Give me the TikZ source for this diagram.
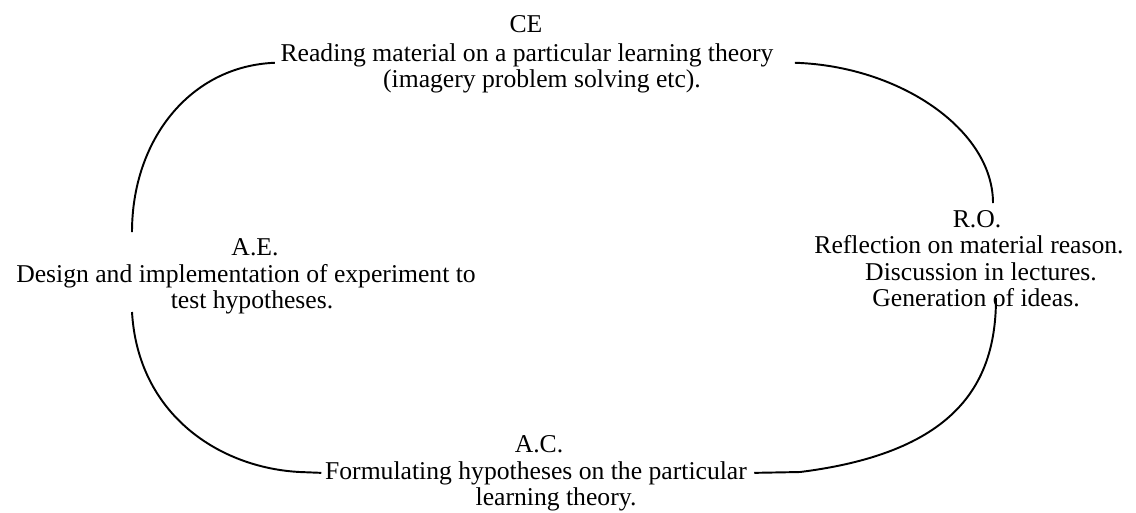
\documentclass[tikz,border=0pt]{standalone}
\usepackage{fontspec}
\setmainfont{Liberation Serif}
\begin{document}
\begin{tikzpicture}[x=0.02cm, y=-0.02cm, font=\fontsize{14.6}{17}\selectfont,
    txt/.style={anchor=base, inner sep=0pt},
    loopline/.style={line width=1.1pt}]
  \useasboundingbox (0,0) rectangle (1136,512);
  % stage titles
  \node[txt] (ce) at (526,32) {CE};
  \node[txt] (ro) at (977,227) {R.O.};
  \node[txt] (ac) at (539,452) {A.C.};
  \node[txt] (ae) at (255,255) {A.E.};
  % stage texts
  \node[txt] (ce1) at (527,61) {Reading material on a particular learning theory};
  \node[txt] (ce2) at (542,87) {(imagery problem solving etc).};
  \node[txt] (ro1) at (969,253) {Reflection on material reason.};
  \node[txt] (ro2) at (981,280) {Discussion in lectures.};
  \node[txt] (ro3) at (976,306) {Generation of ideas.};
  \node[txt] (ae1) at (246,282) {Design and implementation of experiment to};
  \node[txt] (ae2) at (252,308) {test hypotheses.};
  \node[txt] (ac1) at (536,479) {Formulating hypotheses on the particular};
  \node[txt] (ac2) at (556,505) {learning theory.};
  % ends of the arcs
  \coordinate (aeTop) at (132,232);
  \coordinate (aeBot) at (132,312);
  \coordinate (roTop) at (993,203);
  \coordinate (roBot) at (996,298);
  % the cycle
  \draw[loopline] ([xshift=-3pt,yshift=-1pt]ce1.base west) .. controls (190,66) and (132,140) .. (aeTop);
  \draw[loopline] ([xshift=12pt,yshift=-1pt]ce1.base east) .. controls (900,66) and (993,130) .. (roTop);
  \draw[loopline] (roBot) .. controls (996,380) and (960,452) .. (800,472) -- ([xshift=4pt,yshift=3.5pt]ac1.base east);
  \draw[loopline] (aeBot) .. controls (138,415) and (220,468) .. (300,472) -- ([xshift=-2pt,yshift=3.5pt]ac1.base west);
\end{tikzpicture}
\end{document}
